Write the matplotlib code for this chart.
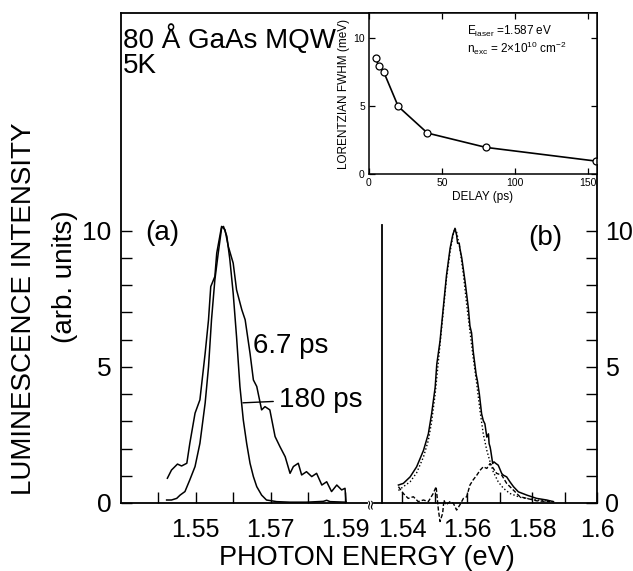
import numpy as np
import matplotlib
matplotlib.use("Agg")
import matplotlib.pyplot as plt

plt.rcParams['font.family'] = ['Liberation Sans', 'DejaVu Sans']
plt.rcParams['mathtext.default'] = 'regular'

# (a) luminescence spectra, left panel
e_67ps = [1.5424, 1.5435, 1.5451, 1.5462, 1.5476, 1.5484, 1.5498, 1.5511, 1.5525,
          1.5534, 1.5540, 1.5551, 1.5556, 1.5569, 1.5578, 1.5587, 1.5600, 1.5609,
          1.5623, 1.5632, 1.5645, 1.5654, 1.5663, 1.5676, 1.5685, 1.5698, 1.5712,
          1.5725, 1.5739, 1.5752, 1.5761, 1.5774, 1.5783, 1.5796, 1.5810, 1.5823,
          1.5837, 1.5850, 1.5863, 1.5877, 1.5890, 1.5899, 1.5902]
i_67ps = [0.91, 1.21, 1.43, 1.36, 1.46, 2.19, 3.30, 3.79, 5.50, 6.73, 7.95, 8.32,
          9.18, 10.16, 10.04, 9.42, 8.81, 7.83, 7.10, 6.73, 5.50, 4.52, 4.28, 3.42,
          3.54, 3.42, 2.44, 2.07, 1.70, 1.09, 1.34, 1.46, 1.03, 1.15, 0.97, 1.09,
          0.66, 0.78, 0.42, 0.66, 0.48, 0.54, 0.0]

e_180ps = [1.5422, 1.5435, 1.5449, 1.5458, 1.5471, 1.5484, 1.5498, 1.5511, 1.5525,
           1.5534, 1.5542, 1.5551, 1.5560, 1.5569, 1.5574, 1.5583, 1.5591, 1.5600,
           1.5609, 1.5618, 1.5627, 1.5636, 1.5645, 1.5654, 1.5663, 1.5676, 1.5689,
           1.5703, 1.5716, 1.5752, 1.5796, 1.5841, 1.5850, 1.5859, 1.5902]
i_180ps = [0.11, 0.11, 0.17, 0.29, 0.42, 0.85, 1.34, 2.19, 3.67, 5.0, 6.73, 8.2,
           9.18, 10.1, 10.16, 9.8, 8.95, 7.7, 6.1, 4.28, 3.05, 2.19, 1.46, 0.97,
           0.6, 0.29, 0.11, 0.08, 0.05, 0.03, 0.03, 0.06, 0.1, 0.05, 0.03]

# (b) measured spectrum, Lorentzian fit and difference
e_meas = [1.5389, 1.5404, 1.5425, 1.5445, 1.5466, 1.5481, 1.5491, 1.5502, 1.5507,
          1.5517, 1.5527, 1.5537, 1.5548, 1.5556, 1.5563, 1.5568, 1.5571, 1.5576,
          1.5578, 1.5584, 1.5594, 1.5604, 1.5609, 1.5614, 1.5619, 1.5628, 1.5632,
          1.5638, 1.5645, 1.5650, 1.5655, 1.5661, 1.5666, 1.5668, 1.5671, 1.5673,
          1.5676, 1.5679, 1.5683, 1.5689, 1.5696, 1.5707, 1.5712, 1.5722, 1.5732,
          1.5743, 1.5758, 1.5784, 1.5814, 1.5845, 1.5866]
i_meas = [0.66, 0.72, 0.96, 1.33, 1.93, 2.54, 3.27, 4.25, 5.10, 5.95, 7.17, 8.38,
          9.36, 9.84, 10.09, 9.84, 9.54, 9.54, 9.36, 8.99, 8.14, 7.17, 6.50, 6.25,
          5.58, 4.73, 4.49, 4.00, 3.27, 3.03, 2.91, 2.42, 2.54, 2.18, 2.06, 1.93,
          1.69, 1.45, 1.51, 1.45, 1.39, 1.08, 1.02, 0.96, 0.78, 0.60, 0.41, 0.29,
          0.17, 0.11, 0.05]

e_fit = [1.5389, 1.5404, 1.5425, 1.5445, 1.5466, 1.5481, 1.5491, 1.5502, 1.5517,
         1.5527, 1.5537, 1.5548, 1.5558, 1.5563, 1.5568, 1.5578, 1.5589, 1.5599,
         1.5609, 1.5619, 1.5630, 1.5640, 1.5650, 1.5661, 1.5671, 1.5681, 1.5696,
         1.5712, 1.5732, 1.5763, 1.5814, 1.5866]
i_fit = [0.46, 0.60, 0.78, 1.11, 1.69, 2.30, 2.97, 4.00, 5.83, 7.04, 8.26, 9.23,
         9.90, 10.09, 9.96, 9.36, 8.38, 7.29, 6.31, 5.34, 4.37, 3.39, 2.54, 1.93,
         1.51, 1.14, 0.78, 0.54, 0.35, 0.21, 0.11, 0.05]

e_diff = [1.5389, 1.5404, 1.5419, 1.5435, 1.5450, 1.5466, 1.5481, 1.5496, 1.5505,
          1.5512, 1.5517, 1.5525, 1.5529, 1.5535, 1.5548, 1.5558, 1.5568, 1.5578,
          1.5589, 1.5599, 1.5609, 1.5619, 1.5630, 1.5640, 1.5650, 1.5661, 1.5671,
          1.5681, 1.5691, 1.5707, 1.5722, 1.5743, 1.5763, 1.5784, 1.5814, 1.5855]
i_diff = [0.60, 0.35, 0.17, 0.23, 0.05, 0.11, 0.05, 0.35, 0.60, -0.26, -0.68,
          -0.38, 0.11, -0.07, 0.05, -0.01, -0.26, -0.07, 0.17, 0.23, 0.66, 0.85,
          1.02, 1.20, 1.33, 1.27, 1.45, 1.27, 1.09, 1.02, 0.72, 0.47, 0.23, 0.17,
          0.08, 0.05]

# inset: Lorentzian width vs delay
delay = [4.5, 6.7, 10, 20, 40, 80, 155]
fwhm = [8.5, 7.9, 7.5, 4.95, 3.0, 1.95, 0.95]

W, H = 633, 571
fig = plt.figure(figsize=(W / 100, H / 100), dpi=100)


def box(x0, y0, x1, y1):
    # pixel box -> figure fraction rect
    return [x0 / W, 1 - y1 / H, (x1 - x0) / W, (y1 - y0) / H]


axL = fig.add_axes(box(121, 13, 374, 503))
axR = fig.add_axes(box(374, 13, 597, 503))

lw = 1.1
axL.plot(e_67ps, i_67ps, color='black', lw=lw)
axL.plot(e_180ps, i_180ps, color='black', lw=lw)
axR.plot(e_fit, i_fit, color='black', lw=1.0, ls=(0, (1, 1.6)))
axR.plot(e_meas, i_meas, color='black', lw=lw)
axR.plot(e_diff, i_diff, color='black', lw=1.0, ls=(0, (3, 1.5)), clip_on=False)

axL.set_xlim(1.53, 1.59765)
axR.set_xlim(1.53138, 1.60)
for ax in (axL, axR):
    ax.set_ylim(0, 18)
    ax.set_yticks(range(0, 11))
    for s in ax.spines.values():
        s.set_linewidth(1.3)
    ax.tick_params(direction='in', length=8, width=1, labelsize=19, top=False)
    ax.tick_params(axis='x', labelsize=18, pad=11)

axL.set_xticks([1.54, 1.55, 1.56, 1.57, 1.58, 1.59])
axL.set_xticklabels(['', '1.55', '', '1.57', '', '1.59'])
axL.set_yticklabels(['0', '', '', '', '', '5', '', '', '', '', '10'])
axL.tick_params(axis='y', pad=7, right=False)
axL.spines['right'].set_visible(False)
axL.spines['bottom'].set_bounds(1.53, 1.5958)

axR.set_xticks([1.54, 1.55, 1.56, 1.57, 1.58, 1.59, 1.60])
axR.set_xticklabels(['1.54', '', '1.56', '', '1.58', '', '1.6'])
axR.yaxis.tick_right()
axR.set_yticklabels(['0', '', '', '', '', '5', '', '', '', '', '10'])
axR.tick_params(axis='y', pad=6, labelsize=18, left=False, labelleft=False)
axR.spines['left'].set_position(('data', 1.5338))
axR.spines['left'].set_bounds(0, 10.2)

# axis break mark
fig.text(370 / W, 1 - 503 / H, '\u2248', rotation=90, ha='center', va='center',
         fontsize=10, family='DejaVu Sans')

axL.text(0.094, 0.55, '(a)', transform=axL.transAxes, fontsize=20, va='center')
axR.text(0.69, 0.54, '(b)', transform=axR.transAxes, fontsize=20, va='center')
axL.text(1.5653, 5.5, '6.7 ps', fontsize=20, va='baseline')
axL.annotate('180 ps', xy=(1.5626, 3.68), xytext=(1.5722, 3.53), fontsize=20,
             va='baseline',
             arrowprops=dict(arrowstyle='-', lw=1, color='black', shrinkA=2,
                             shrinkB=0, relpos=(0, 0.45)))

fig.text(123 / W, 1 - 73 / H, '80 Å GaAs MQW\n5K', fontsize=20,
         va='baseline', linespacing=0.95)

fig.text(24 / W, 1 - 309 / H, 'LUMINESCENCE INTENSITY', rotation=90,
         ha='center', va='center', fontsize=20)
fig.text(65 / W, 1 - 277 / H, '(arb. units)', rotation=90,
         ha='center', va='center', fontsize=20)
fig.text(367 / W, 1 - 565 / H, 'PHOTON ENERGY (eV)', ha='center',
         va='baseline', fontsize=19.5)

# inset
axI = fig.add_axes(box(369, 13, 597, 174))
axI.plot(delay, fwhm, color='black', lw=1.2, marker='o', ms=5,
         mfc='white', mec='black', mew=0.9)
axI.set_xlim(0, 156)
axI.set_ylim(0, 11.8)
axI.set_xticks([0, 50, 100, 150])
axI.set_yticks([0, 5, 10])
axI.tick_params(direction='in', length=4, width=0.9, labelsize=7.5,
                top=True, right=True, pad=3)
for s in axI.spines.values():
    s.set_linewidth(1.1)
axI.set_xlabel('DELAY (ps)', fontsize=8.5, labelpad=2)
axI.set_ylabel('LORENTZIAN FWHM (meV)', fontsize=8.5, labelpad=2)
axI.text(0.43, 0.75,
         'E$_{laser}$ =1.587 eV\nn$_{exc}$ = 2$\\times$10$^{10}$ cm$^{-2}$',
         transform=axI.transAxes, fontsize=8.5, va='baseline',
         linespacing=1.1)

fig.savefig('out.png', dpi=100)
